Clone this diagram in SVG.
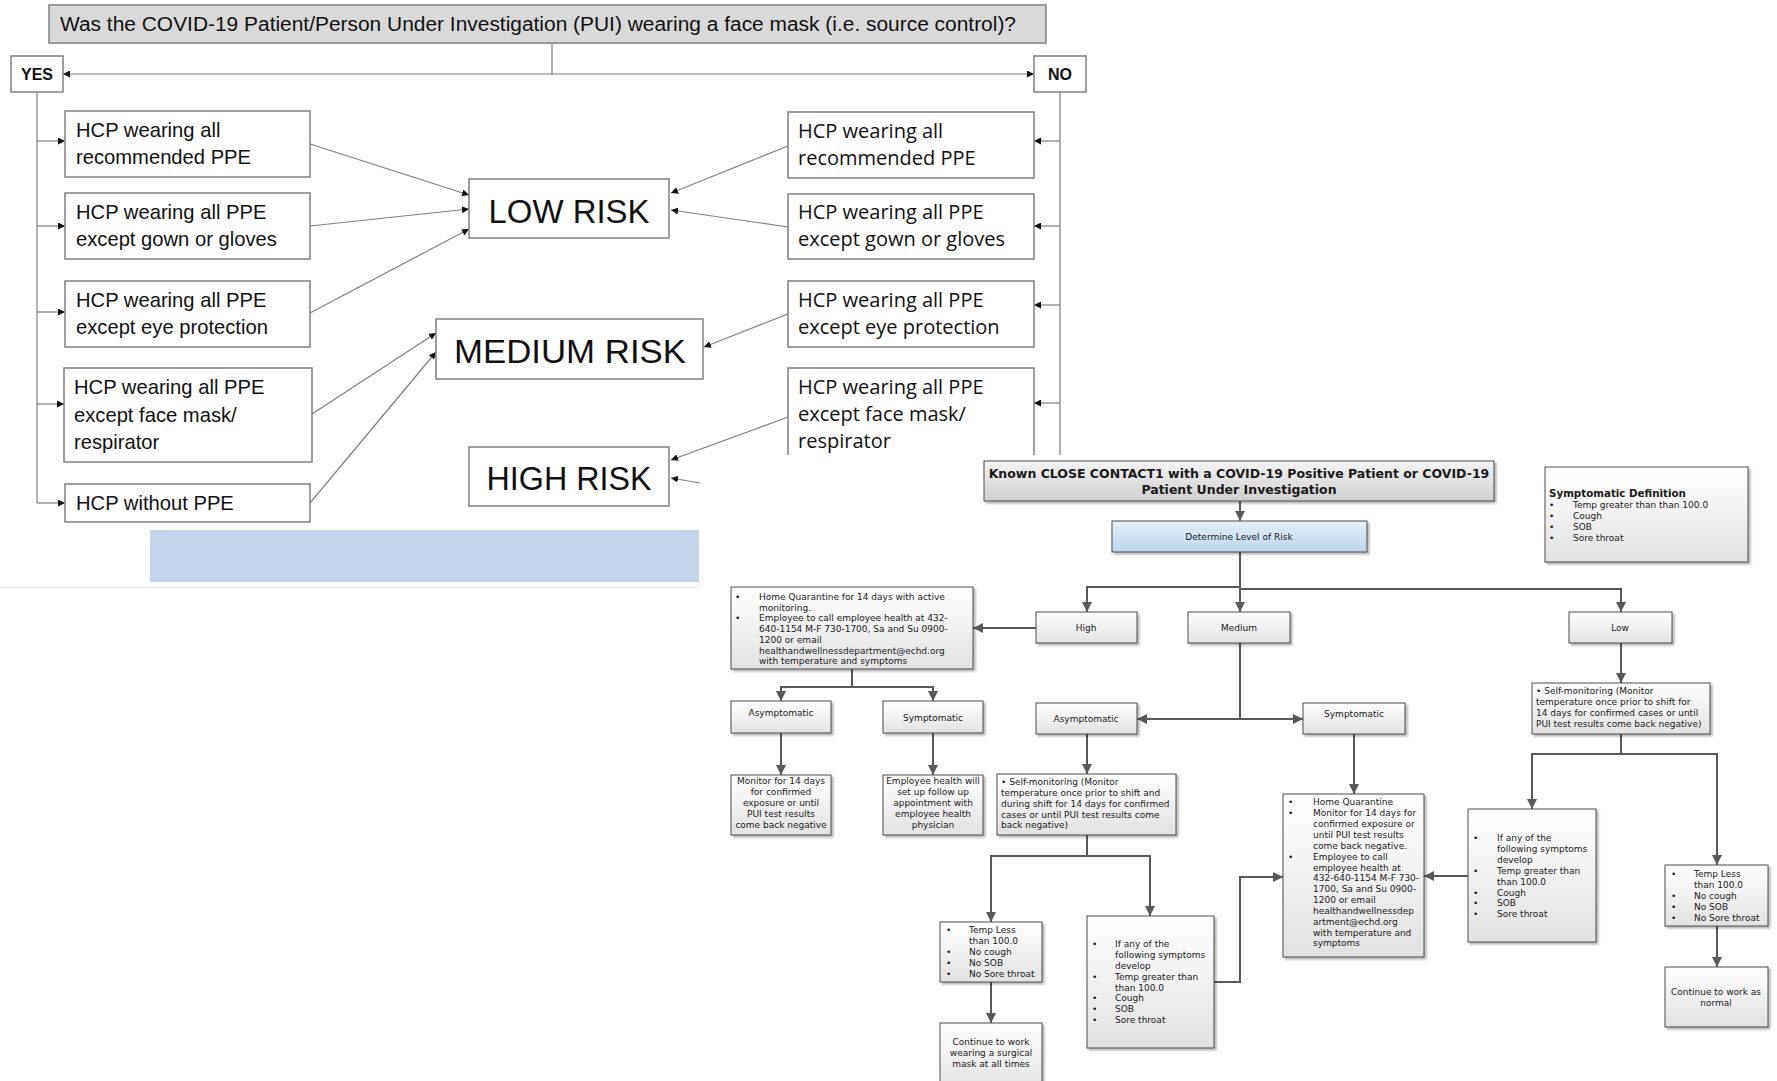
<svg xmlns="http://www.w3.org/2000/svg" width="1777" height="1081" viewBox="0 0 1777 1081">
<style>
.bg{fill:#fff}
.tb{fill:#fff;stroke:#808080;stroke-width:1.5}
.ttl{fill:#d9d9d9;stroke:#808080;stroke-width:1.5}
.c1{stroke:#7f7f7f;stroke-width:1.2;fill:none}
.c2{stroke:#595959;stroke-width:2;fill:none}
.lt{font-family:"Liberation Sans",Arial,sans-serif;font-size:20.2px;fill:#111}
.rt{font-family:"Open Sans","Liberation Sans",sans-serif;font-size:20px;fill:#111}
.risk{font-family:"Liberation Sans",Arial,sans-serif;font-size:34px;fill:#111;text-anchor:middle}
.yn{font-family:"Liberation Sans",Arial,sans-serif;font-size:16px;font-weight:bold;fill:#111;text-anchor:middle}
.lb{fill:url(#gw);stroke:#4d4d4d;stroke-width:1;filter:url(#sh)}
.sm{font-family:"DejaVu Sans",Verdana,sans-serif;font-size:9px;fill:#1a1a1a}
.mid{text-anchor:middle}
.bd{font-weight:bold}
.big{font-size:12.5px}
.sd{font-size:10.3px}
</style>
<defs>
<linearGradient id="gw" x1="0" y1="0" x2="0" y2="1"><stop offset="0" stop-color="#ffffff"/><stop offset="1" stop-color="#e2e2e2"/></linearGradient>
<linearGradient id="gg" x1="0" y1="0" x2="0" y2="1"><stop offset="0" stop-color="#f4f4f4"/><stop offset="1" stop-color="#cfcfcf"/></linearGradient>
<linearGradient id="gb" x1="0" y1="0" x2="0" y2="1"><stop offset="0" stop-color="#e6f0f9"/><stop offset="1" stop-color="#bcd4ea"/></linearGradient>
<filter id="sh" x="-10%" y="-10%" width="130%" height="130%"><feDropShadow dx="2" dy="2" stdDeviation="1" flood-color="#000" flood-opacity="0.3"/></filter>
<marker id="m1" viewBox="0 0 10 10" refX="10" refY="5" markerWidth="7" markerHeight="7" markerUnits="userSpaceOnUse" orient="auto"><path d="M0,0 L10,5 L0,10 z" fill="#111"/></marker>
<marker id="m2" viewBox="0 0 10 10" refX="10" refY="5" markerWidth="10" markerHeight="10" markerUnits="userSpaceOnUse" orient="auto"><path d="M0,0 L10,5 L0,10 z" fill="#595959"/></marker>
</defs>
<rect class="bg" x="0" y="0" width="1777" height="1081"/>

<!-- top image remnants -->
<rect x="150" y="530" width="549" height="52" fill="#c5d4ea"/>
<line x1="0" y1="587.5" x2="700" y2="587.5" stroke="#ececec" stroke-width="1"/>

<g id="connectors-top">
<path class="c1" d="M552,43 V74"/>
<path class="c1" d="M552,74 H63" marker-end="url(#m1)"/>
<path class="c1" d="M552,74 H1034" marker-end="url(#m1)"/>
<path class="c1" d="M37,92 V503"/>
<path class="c1" d="M37,141 H65" marker-end="url(#m1)"/>
<path class="c1" d="M37,226 H65" marker-end="url(#m1)"/>
<path class="c1" d="M37,312 H65" marker-end="url(#m1)"/>
<path class="c1" d="M37,404 H64" marker-end="url(#m1)"/>
<path class="c1" d="M37,503 H65" marker-end="url(#m1)"/>
<path class="c1" d="M1060,92 V455"/>
<path class="c1" d="M1060,141 H1034" marker-end="url(#m1)"/>
<path class="c1" d="M1060,226 H1034" marker-end="url(#m1)"/>
<path class="c1" d="M1060,305 H1034" marker-end="url(#m1)"/>
<path class="c1" d="M1060,403 H1034" marker-end="url(#m1)"/>
<path class="c1" d="M310,144 L469,195" marker-end="url(#m1)"/>
<path class="c1" d="M310,226 L469,209" marker-end="url(#m1)"/>
<path class="c1" d="M310,313 L469,229" marker-end="url(#m1)"/>
<path class="c1" d="M312,414 L436,333" marker-end="url(#m1)"/>
<path class="c1" d="M310,503 L436,352" marker-end="url(#m1)"/>
<path class="c1" d="M788,146 L671,193" marker-end="url(#m1)"/>
<path class="c1" d="M788,227 L671,210" marker-end="url(#m1)"/>
<path class="c1" d="M788,314 L704,347" marker-end="url(#m1)"/>
<path class="c1" d="M788,417 L671,460" marker-end="url(#m1)"/>
<path class="c1" d="M700,483 L671,478" marker-end="url(#m1)"/>
</g>

<g id="question">
<rect class="ttl" x="49" y="5" width="997" height="38"/>
<text class="lt" x="60" y="31" style="font-size:20px" textLength="956" lengthAdjust="spacingAndGlyphs">Was the COVID-19 Patient/Person Under Investigation (PUI) wearing a face mask (i.e. source control)?</text>
</g>
<g id="yes"><rect class="tb" x="11" y="56" width="52" height="36"/><text class="yn" x="37" y="80">YES</text></g>
<g id="no"><rect class="tb" x="1034" y="56" width="52" height="36"/><text class="yn" x="1060" y="80">NO</text></g>

<g id="yes-ppe-all"><rect class="tb" x="65" y="111" width="245" height="66"/><text class="lt" x="76" y="137">HCP wearing all</text><text class="lt" x="76" y="164">recommended PPE</text></g>
<g id="yes-ppe-gown"><rect class="tb" x="65" y="193" width="245" height="66"/><text class="lt" x="76" y="219">HCP wearing all PPE</text><text class="lt" x="76" y="246">except gown or gloves</text></g>
<g id="yes-ppe-eye"><rect class="tb" x="65" y="281" width="245" height="66"/><text class="lt" x="76" y="307">HCP wearing all PPE</text><text class="lt" x="76" y="334">except eye protection</text></g>
<g id="yes-ppe-mask"><rect class="tb" x="64" y="368" width="248" height="94"/><text class="lt" x="74" y="394">HCP wearing all PPE</text><text class="lt" x="74" y="422">except face mask/</text><text class="lt" x="74" y="449">respirator</text></g>
<g id="yes-no-ppe"><rect class="tb" x="65" y="484" width="245" height="38"/><text class="lt" x="76" y="510">HCP without PPE</text></g>

<g id="low-risk"><rect class="tb" x="469" y="179" width="200" height="59"/><text class="risk" x="569" y="223" textLength="161" lengthAdjust="spacingAndGlyphs">LOW RISK</text></g>
<g id="medium-risk"><rect class="tb" x="436" y="319" width="267" height="60"/><text class="risk" x="570" y="363" textLength="232" lengthAdjust="spacingAndGlyphs">MEDIUM RISK</text></g>
<g id="high-risk"><rect class="tb" x="469" y="447" width="200" height="59"/><text class="risk" x="569" y="490" textLength="165" lengthAdjust="spacingAndGlyphs">HIGH RISK</text></g>

<g id="no-ppe-all"><rect class="tb" x="788" y="112" width="246" height="66"/><text class="rt" x="798" y="138">HCP wearing all</text><text class="rt" x="798" y="165">recommended PPE</text></g>
<g id="no-ppe-gown"><rect class="tb" x="788" y="194" width="246" height="65"/><text class="rt" x="798" y="219">HCP wearing all PPE</text><text class="rt" x="798" y="246">except gown or gloves</text></g>
<g id="no-ppe-eye"><rect class="tb" x="788" y="281" width="246" height="66"/><text class="rt" x="798" y="307">HCP wearing all PPE</text><text class="rt" x="798" y="334">except eye protection</text></g>
<g id="no-ppe-mask"><path class="tb" d="M788,455 V368 H1034 V455"/><text class="rt" x="798" y="394">HCP wearing all PPE</text><text class="rt" x="798" y="421">except face mask/</text><text class="rt" x="798" y="448">respirator</text></g>

<g id="connectors-bottom">
<path class="c2" d="M1240,501 V521" marker-end="url(#m2)"/>
<path class="c2" d="M1240,552 V612" marker-end="url(#m2)"/>
<path class="c2" d="M1240,587 H1087 V612" marker-end="url(#m2)"/>
<path class="c2" d="M1240,589 H1621 V612" marker-end="url(#m2)"/>
<path class="c2" d="M1036,628 H973" marker-end="url(#m2)"/>
<path class="c2" d="M852,669 V687 H781 V701" marker-end="url(#m2)"/>
<path class="c2" d="M852,687 H933 V701" marker-end="url(#m2)"/>
<path class="c2" d="M781,733 V775" marker-end="url(#m2)"/>
<path class="c2" d="M933,733 V775" marker-end="url(#m2)"/>
<path class="c2" d="M1240,643 V719 H1137" marker-end="url(#m2)"/>
<path class="c2" d="M1240,719 H1303" marker-end="url(#m2)"/>
<path class="c2" d="M1087,734 V774" marker-end="url(#m2)"/>
<path class="c2" d="M1087,835 V856 H991 V922" marker-end="url(#m2)"/>
<path class="c2" d="M1087,856 H1150 V916" marker-end="url(#m2)"/>
<path class="c2" d="M991,982 V1023" marker-end="url(#m2)"/>
<path class="c2" d="M1214,982 H1240 V877 H1283" marker-end="url(#m2)"/>
<path class="c2" d="M1354,734 V794" marker-end="url(#m2)"/>
<path class="c2" d="M1621,643 V683" marker-end="url(#m2)"/>
<path class="c2" d="M1621,734 V754 H1532 V809" marker-end="url(#m2)"/>
<path class="c2" d="M1621,754 H1717 V865" marker-end="url(#m2)"/>
<path class="c2" d="M1468,876 H1424" marker-end="url(#m2)"/>
<path class="c2" d="M1717,926 V967" marker-end="url(#m2)"/>
</g>

<g id="close-contact">
<rect x="984" y="461" width="510" height="40" fill="url(#gg)" stroke="#4d4d4d" stroke-width="1" filter="url(#sh)"/>
<text class="sm bd mid big" x="1239" y="478">Known CLOSE CONTACT1 with a COVID-19 Positive Patient or COVID-19</text>
<text class="sm bd mid big" x="1239" y="494">Patient Under Investigation</text>
</g>
<g id="determine">
<rect x="1112" y="521" width="255" height="31" fill="url(#gb)" stroke="#4d4d4d" stroke-width="1" filter="url(#sh)"/>
<text class="sm mid" x="1239" y="540">Determine Level of Risk</text>
</g>
<g id="symptom-def">
<rect class="lb" x="1545" y="467" width="203" height="95"/>
<text class="sm bd sd" x="1549" y="497">Symptomatic Definition</text>
<text class="sm" x="1549" y="508">•</text><text class="sm" x="1573" y="508">Temp greater than than 100.0</text>
<text class="sm" x="1549" y="519">•</text><text class="sm" x="1573" y="519">Cough</text>
<text class="sm" x="1549" y="530">•</text><text class="sm" x="1573" y="530">SOB</text>
<text class="sm" x="1549" y="541">•</text><text class="sm" x="1573" y="541">Sore throat</text>
</g>
<g id="high"><rect class="lb" x="1036" y="612" width="101" height="31"/><text class="sm mid" x="1086" y="631">High</text></g>
<g id="medium"><rect class="lb" x="1188" y="612" width="102" height="31"/><text class="sm mid" x="1239" y="631">Medium</text></g>
<g id="low"><rect class="lb" x="1569" y="612" width="103" height="31"/><text class="sm mid" x="1620" y="631">Low</text></g>

<g id="high-quarantine">
<rect class="lb" x="731" y="587" width="242" height="82"/>
<text class="sm" x="735" y="600">•</text><text class="sm" x="759" y="600">Home Quarantine for 14 days with active</text>
<text class="sm" x="759" y="610.7">monitoring.</text>
<text class="sm" x="735" y="621.4">•</text><text class="sm" x="759" y="621.4">Employee to call employee health at 432-</text>
<text class="sm" x="759" y="632.1">640-1154 M-F 730-1700, Sa and Su 0900-</text>
<text class="sm" x="759" y="642.8">1200 or email</text>
<text class="sm" x="759" y="653.5">healthandwellnessdepartment@echd.org</text>
<text class="sm" x="759" y="664.2">with temperature and symptoms</text>
</g>
<g id="high-asym"><rect class="lb" x="731" y="701" width="100" height="32"/><text class="sm mid" x="781" y="716">Asymptomatic</text></g>
<g id="high-sym"><rect class="lb" x="883" y="701" width="100" height="32"/><text class="sm mid" x="933" y="721">Symptomatic</text></g>
<g id="high-monitor">
<rect class="lb" x="731" y="775" width="100" height="60"/>
<text class="sm mid" x="781" y="784">Monitor for 14 days</text>
<text class="sm mid" x="781" y="795">for confirmed</text>
<text class="sm mid" x="781" y="806">exposure or until</text>
<text class="sm mid" x="781" y="817">PUI test results</text>
<text class="sm mid" x="781" y="828">come back negative</text>
</g>
<g id="high-employee-health">
<rect class="lb" x="883" y="775" width="100" height="60"/>
<text class="sm mid" x="933" y="784">Employee health will</text>
<text class="sm mid" x="933" y="795">set up follow up</text>
<text class="sm mid" x="933" y="806">appointment with</text>
<text class="sm mid" x="933" y="817">employee health</text>
<text class="sm mid" x="933" y="828">physician</text>
</g>

<g id="med-asym"><rect class="lb" x="1036" y="703" width="101" height="31"/><text class="sm mid" x="1086" y="722">Asymptomatic</text></g>
<g id="med-sym"><rect class="lb" x="1303" y="703" width="102" height="31"/><text class="sm mid" x="1354" y="717">Symptomatic</text></g>
<g id="med-self-monitor">
<rect class="lb" x="997" y="774" width="179" height="61"/>
<text class="sm" x="1001" y="785">• Self-monitoring (Monitor</text>
<text class="sm" x="1001" y="796">temperature once prior to shift and</text>
<text class="sm" x="1001" y="807">during shift for 14 days for confirmed</text>
<text class="sm" x="1001" y="818">cases or until PUI test results come</text>
<text class="sm" x="1001" y="828">back negative)</text>
</g>
<g id="med-temp-less">
<rect class="lb" x="940" y="922" width="102" height="60"/>
<text class="sm" x="946" y="933">•</text><text class="sm" x="969" y="933">Temp Less</text>
<text class="sm" x="969" y="944">than 100.0</text>
<text class="sm" x="946" y="955">•</text><text class="sm" x="969" y="955">No cough</text>
<text class="sm" x="946" y="966">•</text><text class="sm" x="969" y="966">No SOB</text>
<text class="sm" x="946" y="977">•</text><text class="sm" x="969" y="977">No Sore throat</text>
</g>
<g id="med-continue">
<rect class="lb" x="940" y="1023" width="102" height="66"/>
<text class="sm mid" x="991" y="1045">Continue to work</text>
<text class="sm mid" x="991" y="1056">wearing a surgical</text>
<text class="sm mid" x="991" y="1067">mask at all times</text>
</g>
<g id="med-if-any">
<rect class="lb" x="1087" y="916" width="127" height="132"/>
<text class="sm" x="1092" y="947">•</text><text class="sm" x="1115" y="947">If any of the</text>
<text class="sm" x="1115" y="958">following symptoms</text>
<text class="sm" x="1115" y="969">develop</text>
<text class="sm" x="1092" y="980">•</text><text class="sm" x="1115" y="980">Temp greater than</text>
<text class="sm" x="1115" y="991">than 100.0</text>
<text class="sm" x="1092" y="1001">•</text><text class="sm" x="1115" y="1001">Cough</text>
<text class="sm" x="1092" y="1012">•</text><text class="sm" x="1115" y="1012">SOB</text>
<text class="sm" x="1092" y="1023">•</text><text class="sm" x="1115" y="1023">Sore throat</text>
</g>
<g id="med-home-quarantine">
<rect class="lb" x="1283" y="794" width="141" height="163"/>
<text class="sm" x="1288" y="805">•</text><text class="sm" x="1313" y="805">Home Quarantine</text>
<text class="sm" x="1288" y="816">•</text><text class="sm" x="1313" y="816">Monitor for 14 days for</text>
<text class="sm" x="1313" y="827">confirmed exposure or</text>
<text class="sm" x="1313" y="838">until PUI test results</text>
<text class="sm" x="1313" y="849">come back negative.</text>
<text class="sm" x="1288" y="860">•</text><text class="sm" x="1313" y="860">Employee to call</text>
<text class="sm" x="1313" y="871">employee health at</text>
<text class="sm" x="1313" y="881">432-640-1154 M-F 730-</text>
<text class="sm" x="1313" y="892">1700, Sa and Su 0900-</text>
<text class="sm" x="1313" y="903">1200 or email</text>
<text class="sm" x="1313" y="914">healthandwellnessdep</text>
<text class="sm" x="1313" y="925">artment@echd.org</text>
<text class="sm" x="1313" y="936">with temperature and</text>
<text class="sm" x="1313" y="946">symptoms</text>
</g>

<g id="low-self-monitor">
<rect class="lb" x="1532" y="683" width="178" height="51"/>
<text class="sm" x="1536" y="694">• Self-monitoring (Monitor</text>
<text class="sm" x="1536" y="705">temperature once prior to shift for</text>
<text class="sm" x="1536" y="716">14 days for confirmed cases or until</text>
<text class="sm" x="1536" y="727">PUI test results come back negative)</text>
</g>
<g id="low-if-any">
<rect class="lb" x="1468" y="809" width="128" height="133"/>
<text class="sm" x="1473" y="841">•</text><text class="sm" x="1497" y="841">If any of the</text>
<text class="sm" x="1497" y="852">following symptoms</text>
<text class="sm" x="1497" y="863">develop</text>
<text class="sm" x="1473" y="874">•</text><text class="sm" x="1497" y="874">Temp greater than</text>
<text class="sm" x="1497" y="885">than 100.0</text>
<text class="sm" x="1473" y="896">•</text><text class="sm" x="1497" y="896">Cough</text>
<text class="sm" x="1473" y="906">•</text><text class="sm" x="1497" y="906">SOB</text>
<text class="sm" x="1473" y="917">•</text><text class="sm" x="1497" y="917">Sore throat</text>
</g>
<g id="low-temp-less">
<rect class="lb" x="1665" y="865" width="103" height="61"/>
<text class="sm" x="1671" y="877">•</text><text class="sm" x="1694" y="877">Temp Less</text>
<text class="sm" x="1694" y="888">than 100.0</text>
<text class="sm" x="1671" y="899">•</text><text class="sm" x="1694" y="899">No cough</text>
<text class="sm" x="1671" y="910">•</text><text class="sm" x="1694" y="910">No SOB</text>
<text class="sm" x="1671" y="921">•</text><text class="sm" x="1694" y="921">No Sore throat</text>
</g>
<g id="low-continue">
<rect class="lb" x="1665" y="967" width="103" height="60"/>
<text class="sm mid" x="1716" y="995">Continue to work as</text>
<text class="sm mid" x="1716" y="1006">normal</text>
</g>
</svg>
